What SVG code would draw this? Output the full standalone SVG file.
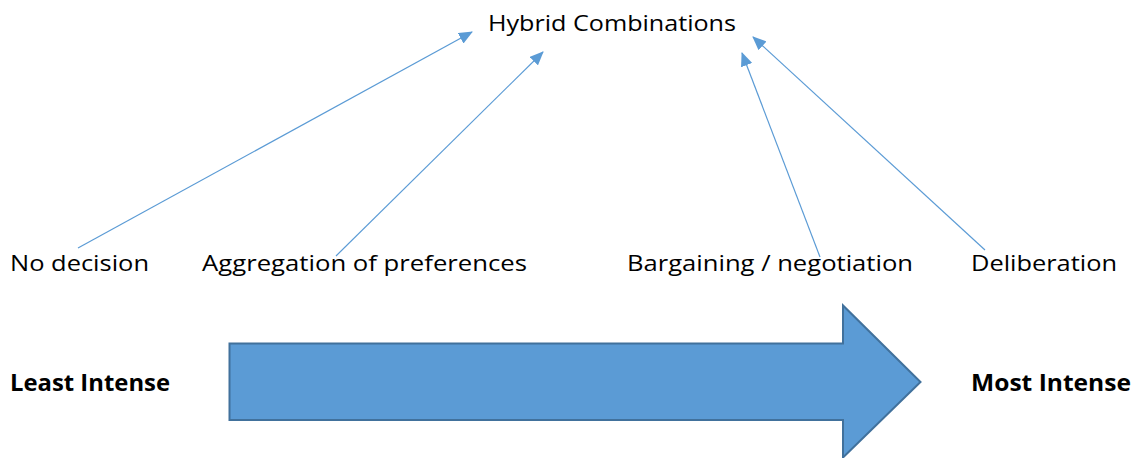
<svg xmlns="http://www.w3.org/2000/svg" width="1136" height="458" viewBox="0 0 1136 458">
<style>
.t{font-family:"Open Sans","Liberation Sans",sans-serif;font-size:22.5px;fill:#000}
.b{font-weight:bold}
.c{stroke:#5B9BD5;stroke-width:1.2;fill:none}
</style>
<defs>
<marker id="ah" markerWidth="14" markerHeight="12" refX="13" refY="6" orient="auto" markerUnits="userSpaceOnUse">
<path d="M0,0 L14,6 L0,12 Z" fill="#5B9BD5"/>
</marker>
</defs>
<rect width="1136" height="458" fill="#fff"/>
<g id="arrow-big">
<path d="M229.5,343.5 H843 V305.5 L920.5,382 L843,457.5 V420 H229.5 Z" fill="#5B9BD5" stroke="#41719C" stroke-width="2"/>
</g>
<g id="connectors">
<line class="c" x1="78" y1="248" x2="472" y2="32" marker-end="url(#ah)"/>
<line class="c" x1="336" y1="256" x2="543" y2="52" marker-end="url(#ah)"/>
<line class="c" x1="820" y1="257" x2="742" y2="53" marker-end="url(#ah)"/>
<line class="c" x1="985" y1="250" x2="753" y2="37" marker-end="url(#ah)"/>
</g>
<g id="hybrid"><text class="t" x="488" y="31" textLength="248" lengthAdjust="spacingAndGlyphs">Hybrid Combinations</text></g>
<g id="no-decision"><text class="t" x="10" y="271" textLength="139" lengthAdjust="spacingAndGlyphs">No decision</text></g>
<g id="aggregation"><text class="t" x="202" y="271" textLength="325" lengthAdjust="spacingAndGlyphs">Aggregation of preferences</text></g>
<g id="bargaining"><text class="t" x="627" y="271" textLength="286" lengthAdjust="spacingAndGlyphs">Bargaining / negotiation</text></g>
<g id="deliberation"><text class="t" x="971" y="271" textLength="146" lengthAdjust="spacingAndGlyphs">Deliberation</text></g>
<g id="least"><text class="t b" x="10" y="391" textLength="160" lengthAdjust="spacingAndGlyphs">Least Intense</text></g>
<g id="most"><text class="t b" x="971" y="391" textLength="160" lengthAdjust="spacingAndGlyphs">Most Intense</text></g>
</svg>
